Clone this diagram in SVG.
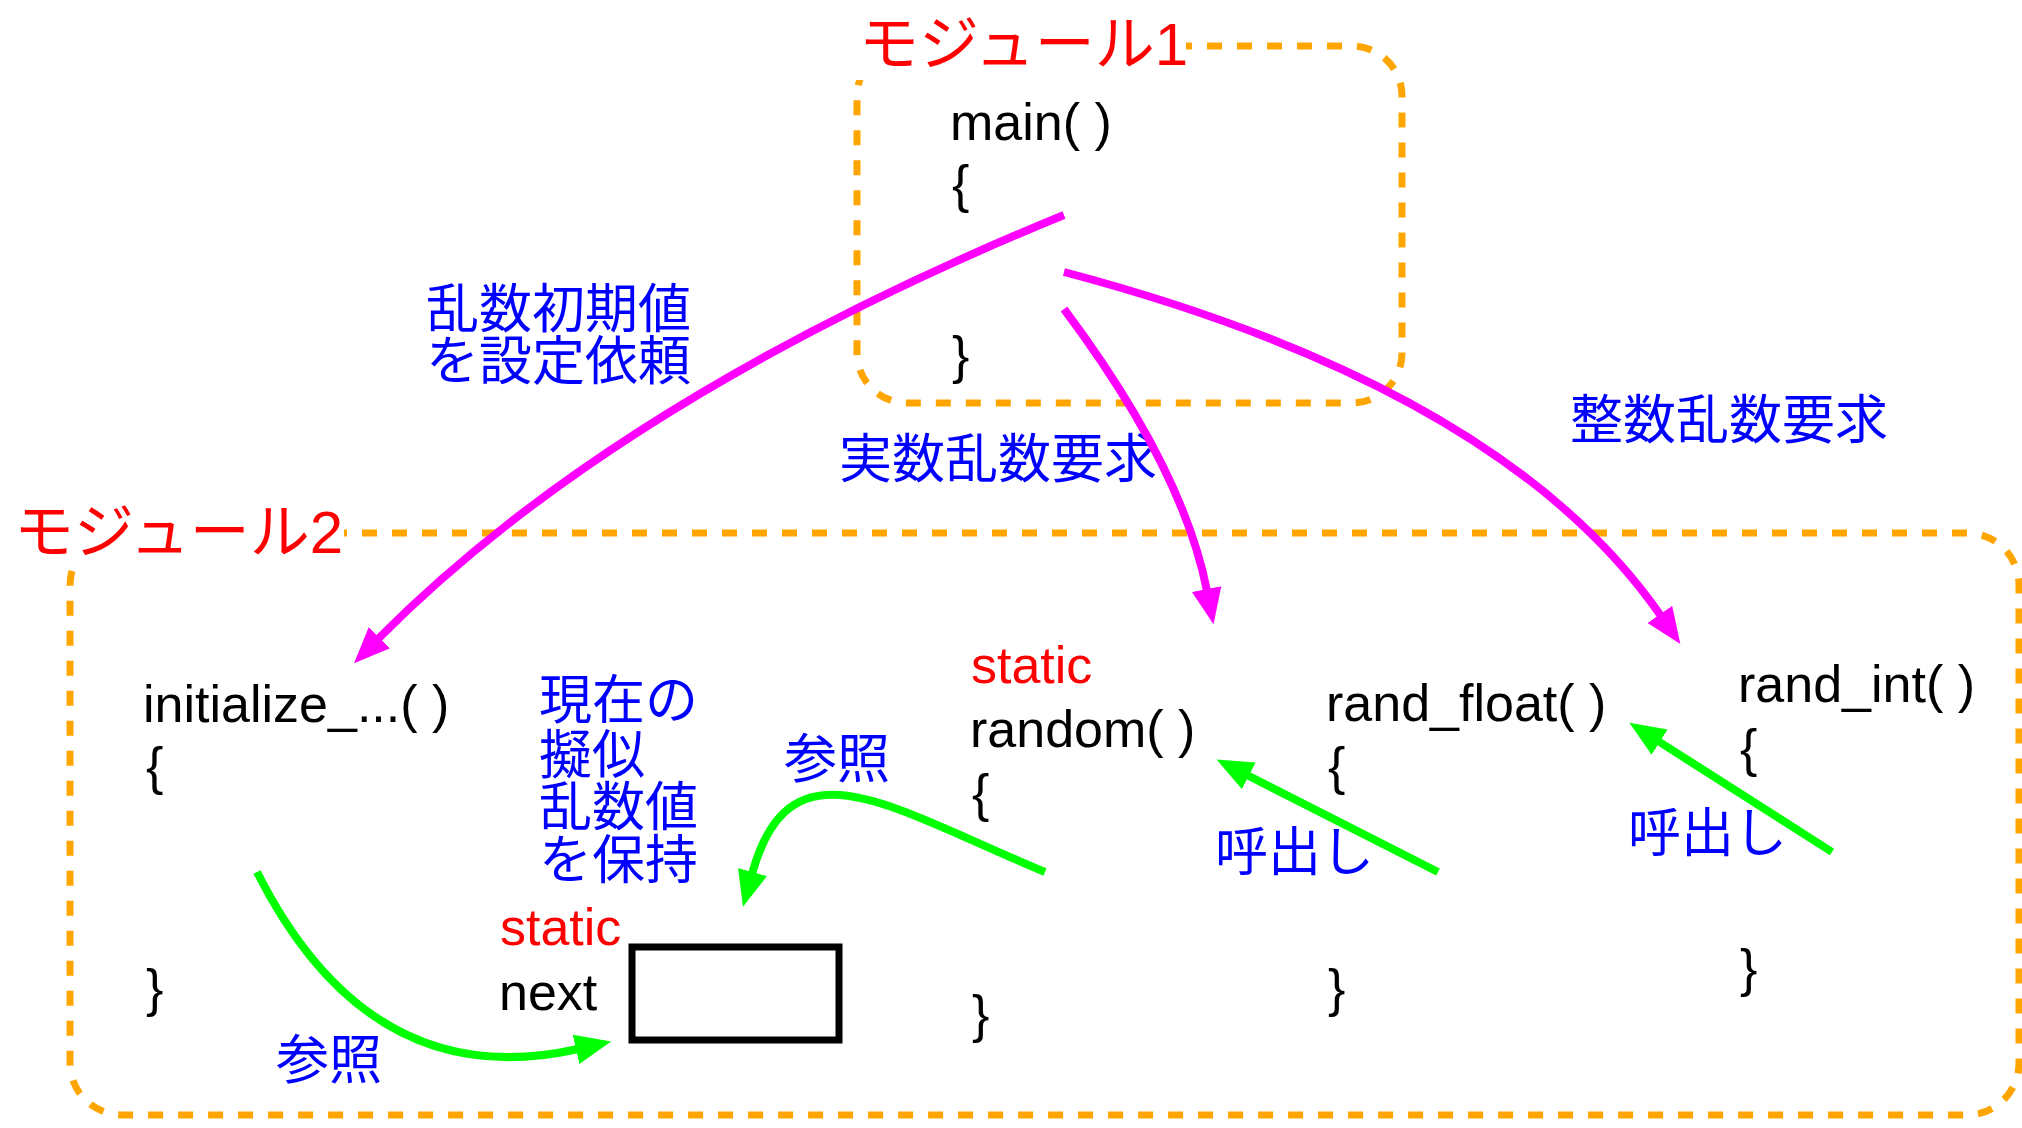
<svg xmlns="http://www.w3.org/2000/svg" width="2022" height="1128" viewBox="0 0 2022 1128">
<defs>
<style>
.code { font-family: "Liberation Sans", Arial, sans-serif; font-size: 52px; fill: #000000; }
.st { font-family: "Liberation Sans", Arial, sans-serif; font-size: 52px; fill: #FF0000; }
.jp { font-family: "Noto Sans CJK JP", "Liberation Sans", sans-serif; font-size: 53px; fill: #0000FF; }
.mod { font-family: "Liberation Sans", "Noto Sans CJK JP", sans-serif; font-size: 60px; fill: #FF0000; }
.box { fill: none; stroke: #FFA500; stroke-width: 7; stroke-dasharray: 15 15; }
.mag { fill: none; stroke: #FF00FF; stroke-width: 8; marker-end: url(#am); }
.grn { fill: none; stroke: #00FF00; stroke-width: 8; marker-end: url(#ag); }
</style>
<marker id="am" markerUnits="userSpaceOnUse" viewBox="0 -16 38 32" markerWidth="38" markerHeight="32" refX="2" refY="0" orient="auto">
<path d="M0,-15 L36,0 L0,15 Z" fill="#FF00FF"/>
</marker>
<marker id="ag" markerUnits="userSpaceOnUse" viewBox="0 -16 38 32" markerWidth="38" markerHeight="32" refX="2" refY="0" orient="auto">
<path d="M0,-15 L36,0 L0,15 Z" fill="#00FF00"/>
</marker>
</defs>
<rect width="2022" height="1128" fill="#FFFFFF"/>

<g id="module1">
<rect class="box" x="857" y="46" width="545" height="357" rx="50" ry="50"/>
<rect x="850" y="6" width="336" height="74" fill="#FFFFFF"/>
<text class="mod" x="859" y="65">モジュール1</text>
</g>

<g id="module2">
<rect class="box" x="70" y="533" width="1949" height="582" rx="52" ry="52"/>
<rect x="0" y="494" width="344" height="74" fill="#FFFFFF"/>
<text class="mod" x="14" y="553">モジュール2</text>
</g>

<g id="main">
<text class="code" x="950" y="140">main( )</text>
<text class="code" x="952" y="202">{</text>
<text class="code" x="952" y="373">}</text>
</g>

<g id="initialize">
<text class="code" x="143" y="722">initialize_...( )</text>
<text class="code" x="146" y="784">{</text>
<text class="code" x="146" y="1006">}</text>
</g>

<g id="next">
<text class="st" x="500" y="945">static</text>
<text class="code" x="499" y="1010">next</text>
<rect x="632" y="947" width="207" height="93" fill="#FFFFFF" stroke="#000000" stroke-width="7"/>
</g>

<g id="random">
<text class="st" x="971" y="683">static</text>
<text class="code" x="970" y="747">random( )</text>
<text class="code" x="972" y="811">{</text>
<text class="code" x="972" y="1032">}</text>
</g>

<g id="rand_float">
<text class="code" x="1326" y="721">rand_float( )</text>
<text class="code" x="1328" y="784">{</text>
<text class="code" x="1328" y="1006">}</text>
</g>

<g id="rand_int">
<text class="code" x="1738" y="702">rand_int( )</text>
<text class="code" x="1740" y="766">{</text>
<text class="code" x="1740" y="986">}</text>
</g>

<g id="labels">
<text class="jp" x="426" y="328">乱数初期値</text>
<text class="jp" x="426" y="380">を設定依頼</text>
<text class="jp" x="839" y="478">実数乱数要求</text>
<text class="jp" x="1570" y="439">整数乱数要求</text>
<text class="jp" x="539" y="719">現在の</text>
<text class="jp" x="539" y="774">擬似</text>
<text class="jp" x="539" y="826">乱数値</text>
<text class="jp" x="539" y="879">を保持</text>
<text class="jp" x="784" y="778">参照</text>
<text class="jp" x="276" y="1079">参照</text>
<text class="jp" x="1215" y="871">呼出し</text>
<text class="jp" x="1628" y="852">呼出し</text>
</g>

<g id="connectors">
<path class="mag" d="M1064,215 Q617,398 378,639"/>
<path class="mag" d="M1064,309 Q1183,468 1207,591"/>
<path class="mag" d="M1064,272 Q1503,388 1661,616"/>
<path class="grn" d="M257,872 Q370,1096 578,1049"/>
<path class="grn" d="M1045,872 C889,807 790,736 752,874"/>
<path class="grn" d="M1438,872 L1247,775"/>
<path class="grn" d="M1832,852 L1658,741"/>
</g>
</svg>
